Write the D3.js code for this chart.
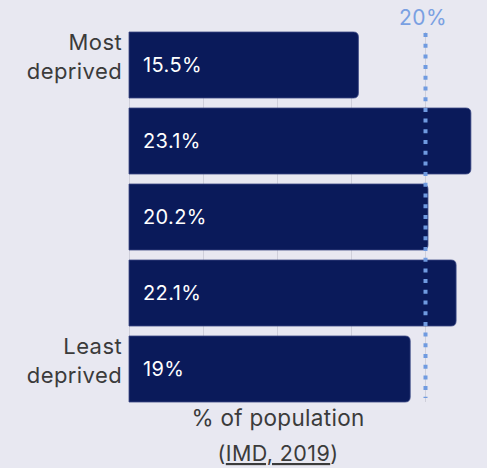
<!DOCTYPE html>
<html>
<head>
<meta charset="utf-8">
<script src="https://cdn.jsdelivr.net/npm/d3@7"></script>
<style>
  html, body { margin: 0; padding: 0; background: #e8e8f1; }
  svg { display: block; }
  text { font-family: Inter, "Noto Sans", sans-serif; }
</style>
</head>
<body>
<svg id="chart" width="487" height="468"></svg>
<script>
const categories = ["Most deprived", "2", "3", "4", "Least deprived"];
const categoryLabels = [["Most", "deprived"], [], [], [], ["Least", "deprived"]];
const values = [15.5, 23.1, 20.2, 22.1, 19];
const valueLabels = ["15.5%", "23.1%", "20.2%", "22.1%", "19%"];
const gridTicks = [0, 5, 10, 15, 20];
const referenceValue = 20;
const referenceLabel = "20%";
const axisTitle = "% of population";
const sourceText = "IMD, 2019";

const svg = d3.select("#chart");

const x = d3.scaleLinear().domain([0, 20]).range([129, 425]);
const y = d3.scaleBand().domain(categories).range([27, 407]).paddingInner(10/76).paddingOuter(5/76);

const yTop = y(categories[0]);
const yBot = y(categories[categories.length - 1]) + y.bandwidth();

// gridlines
svg.append("g").selectAll("line").data(gridTicks).join("line")
  .attr("x1", d => x(d) + 0.5).attr("x2", d => x(d) + 0.5)
  .attr("y1", yTop).attr("y2", yBot)
  .attr("stroke", "#cfcfda").attr("stroke-width", 1);

// bars with rounded right corners
function barPath(x0, x1, y0, h, r) {
  return `M${x0},${y0}H${x1 - r}Q${x1},${y0} ${x1},${y0 + r}V${y0 + h - r}Q${x1},${y0 + h} ${x1 - r},${y0 + h}H${x0}Z`;
}
const data = categories.map((c, i) => ({c, v: values[i], lab: valueLabels[i], cl: categoryLabels[i]}));

svg.append("g").selectAll("path").data(data).join("path")
  .attr("d", d => barPath(x(0), x(d.v), y(d.c), y.bandwidth(), 5))
  .attr("fill", "#0a1a5a")
  .attr("stroke", "#3a4784").attr("stroke-width", 0.8);

// value labels
svg.append("g").selectAll("text").data(data).join("text")
  .attr("x", x(0) + 14)
  .attr("y", d => y(d.c) + y.bandwidth() / 2 + 7)
  .attr("fill", "#ffffff")
  .attr("font-size", 20)
  .attr("letter-spacing", 0.4)
  .text(d => d.lab);

// category labels
const catG = svg.append("g");
data.forEach(d => {
  if (!d.cl.length) return;
  const cy = y(d.c) + y.bandwidth() / 2;
  const t = catG.append("text")
    .attr("text-anchor", "end")
    .attr("fill", "#3b3b3b")
    .attr("font-size", 22)
    .attr("letter-spacing", 0.4);
  t.append("tspan").attr("x", 122).attr("y", cy - 15).text(d.cl[0]);
  t.append("tspan").attr("x", 122).attr("y", cy + 14).text(d.cl[1]);
});

// reference line
svg.append("line")
  .attr("x1", x(referenceValue) + 0.5).attr("x2", x(referenceValue) + 0.5)
  .attr("y1", yTop + 1).attr("y2", yBot - 4)
  .attr("stroke", "#6f9ae0").attr("stroke-width", 4)
  .attr("stroke-dasharray", "4,6.7");

svg.append("text")
  .attr("x", x(referenceValue) - 2).attr("y", 25)
  .attr("text-anchor", "middle")
  .attr("fill", "#7aa0e2")
  .attr("font-size", 21)
  .attr("letter-spacing", 0.5)
  .text(referenceLabel);

// axis title
svg.append("text")
  .attr("x", 278).attr("y", 426)
  .attr("text-anchor", "middle")
  .attr("fill", "#3b3b3b")
  .attr("font-size", 22.5)
  .attr("letter-spacing", 0.3)
  .text(axisTitle);

const src = svg.append("text")
  .attr("x", 278).attr("y", 461)
  .attr("text-anchor", "middle")
  .attr("fill", "#3b3b3b")
  .attr("font-size", 21.5)
  .attr("letter-spacing", 0.4);
src.append("tspan").text("(");
src.append("tspan").attr("text-decoration", "underline").text(sourceText);
src.append("tspan").text(")");
</script>
</body>
</html>
